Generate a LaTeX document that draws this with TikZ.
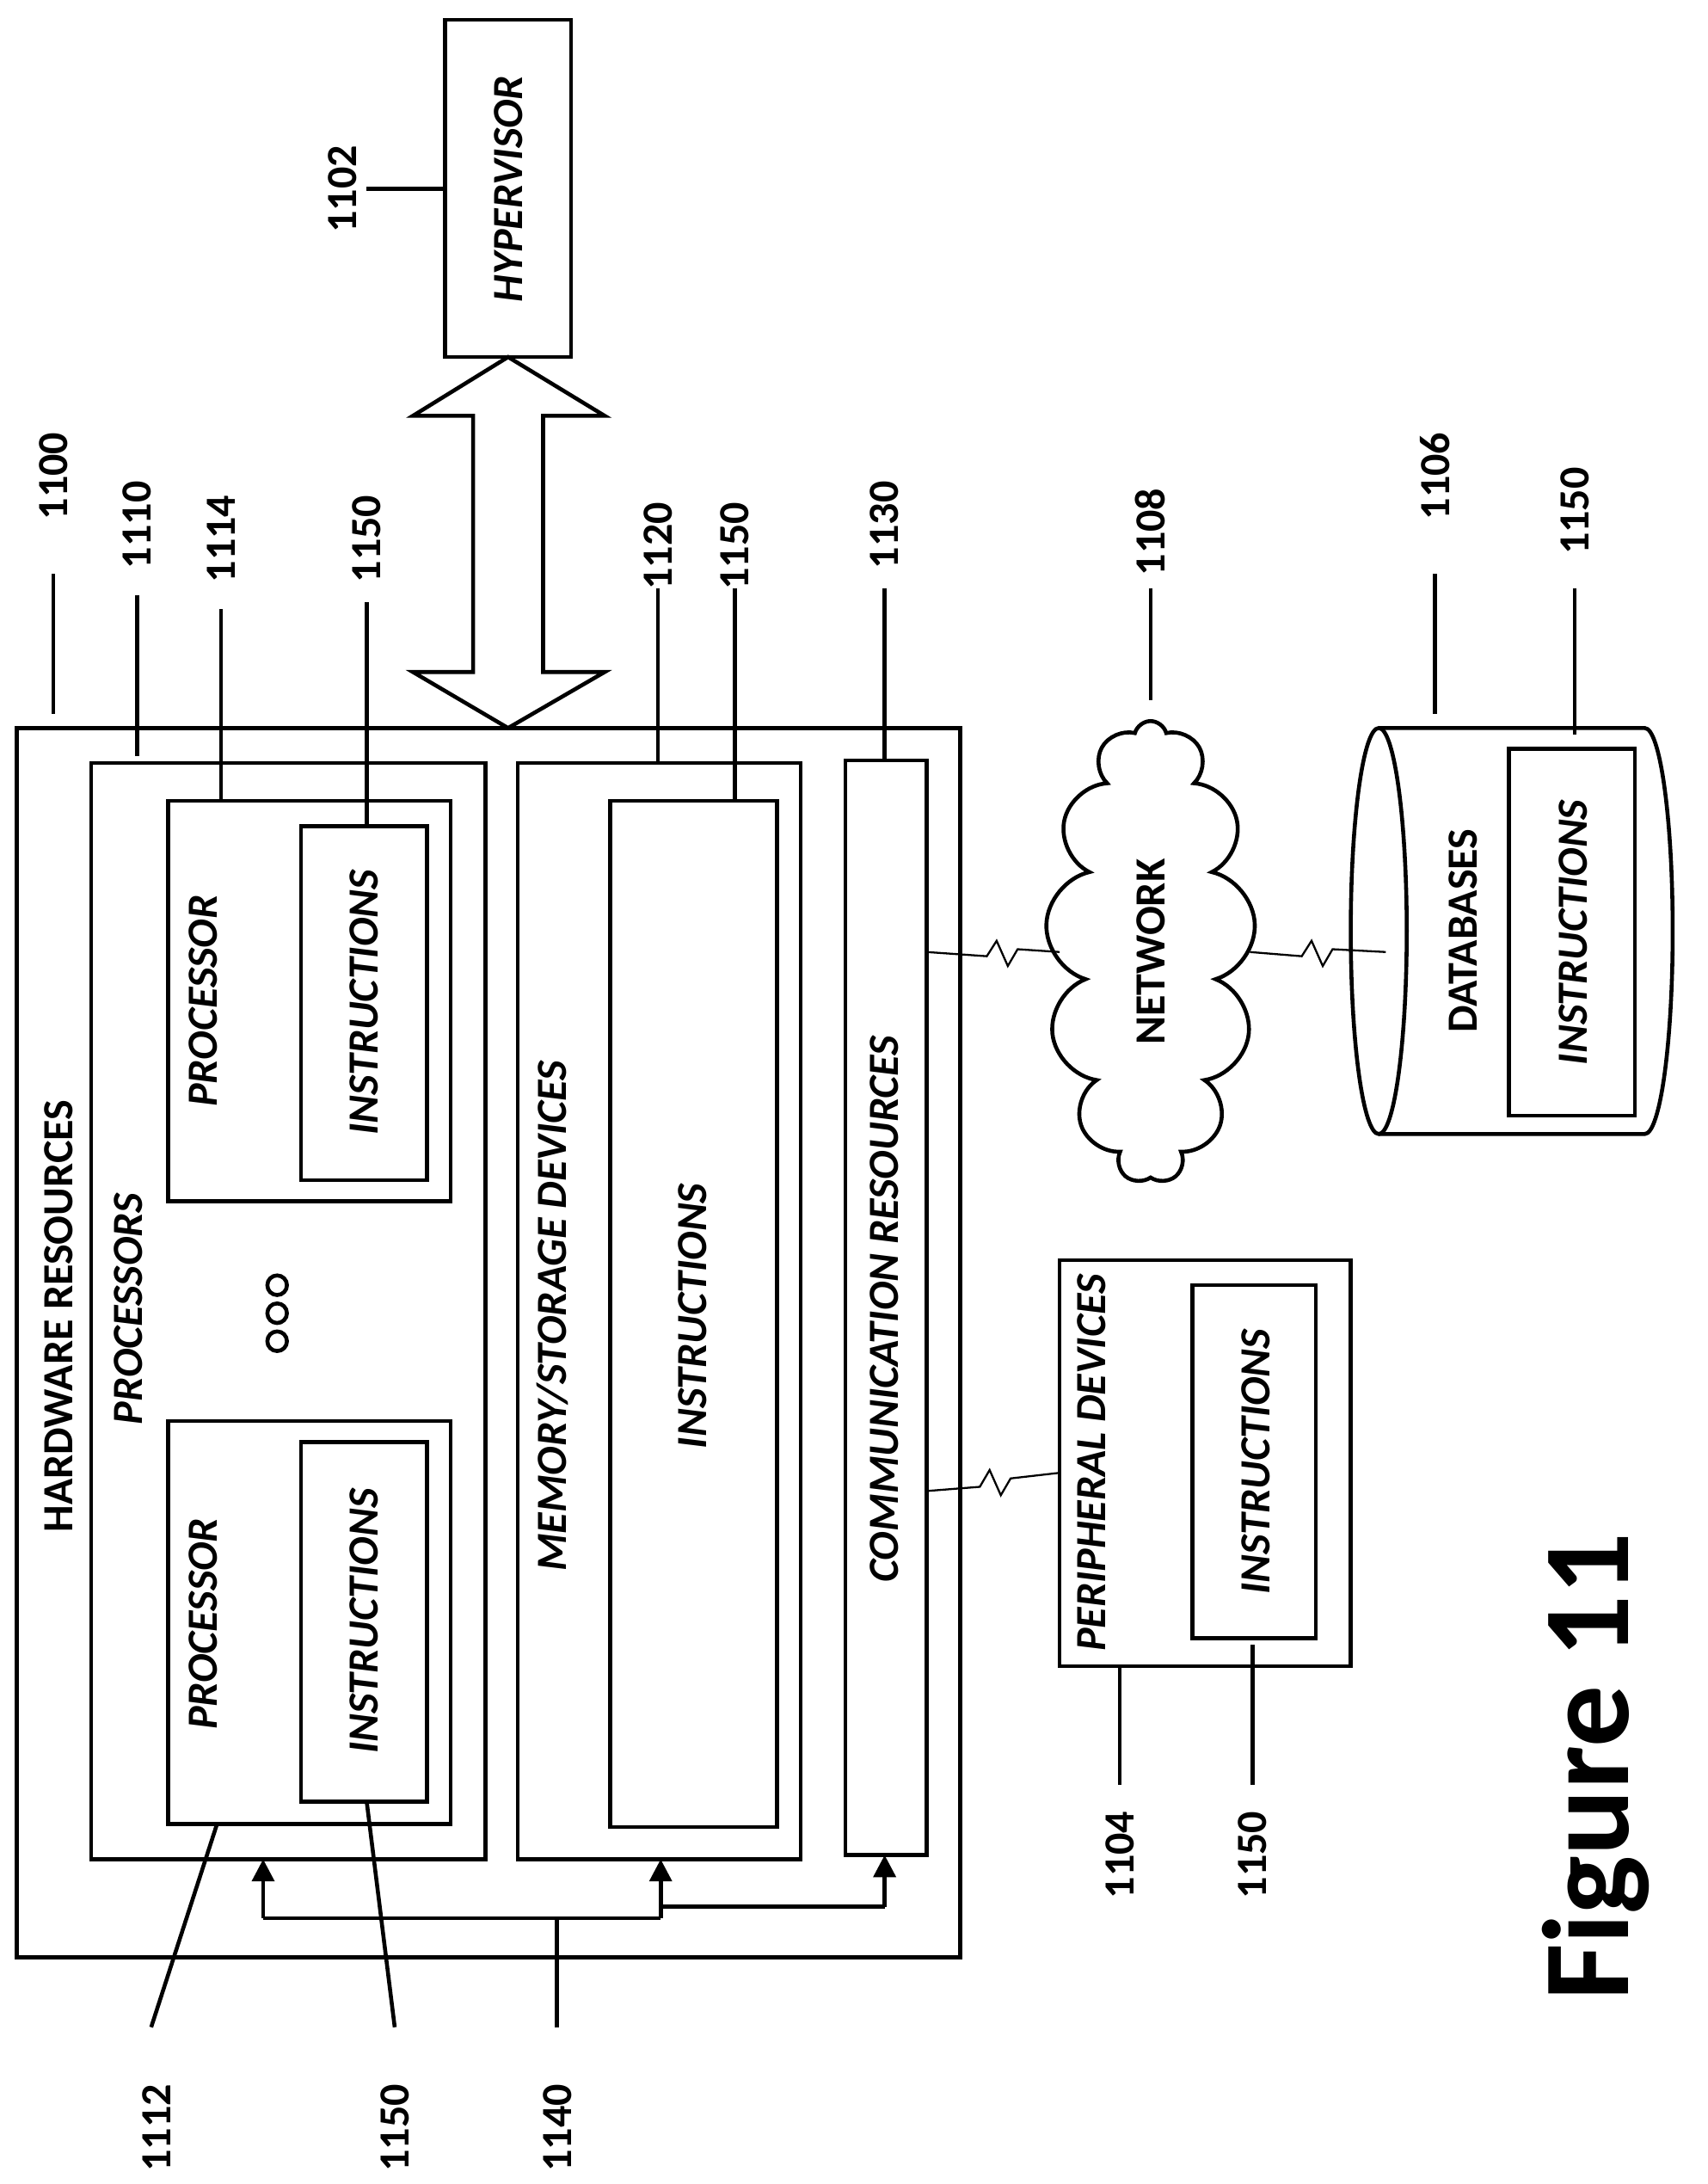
\documentclass[tikz,border=0pt]{standalone}
\usepackage{fontspec}
\setmainfont{Carlito}
\usetikzlibrary{shapes.symbols,arrows.meta}
\tikzset{box/.style={draw, line width=1.6pt},
  lbl/.style={rotate=90, font=\fontsize{17.5}{20}\selectfont\bfseries},
  txt/.style={rotate=90, font=\fontsize{17.5}{20}\selectfont\bfseries\itshape},
  lead/.style={line width=1.6pt},
  bus/.style={line width=1.6pt, -{Triangle[length=9pt,width=9pt]}}}
\begin{document}
\begin{tikzpicture}[x=0.02cm, y=-0.02cm]
\useasboundingbox (0,0) rectangle (1220,1560);
% hardware resources
\draw[box] (12,520) rectangle (686,1398);
\node[lbl] at (42,940) {HARDWARE RESOURCES};
\draw[box] (65,545) rectangle (347,1328);
\node[txt] at (92,935) {PROCESSORS};
% processors
\draw[box] (120,572) rectangle (322,858);
\draw[box] (120,1015) rectangle (322,1303);
\draw[box] (215,590) rectangle (305,843);
\draw[box] (215,1030) rectangle (305,1287);
\node[txt] at (145,715) {PROCESSOR};
\node[txt] at (145,1160) {PROCESSOR};
\node[txt] at (260,716) {INSTRUCTIONS};
\node[txt] at (260,1158) {INSTRUCTIONS};
\foreach \y in {918,938,958} \draw[lead] (198,\y) circle (7);
% memory
\draw[box] (370,545) rectangle (572,1328);
\draw[box] (436,572) rectangle (555,1305);
\node[txt] at (395,940) {MEMORY/STORAGE DEVICES};
\node[txt] at (495,940) {INSTRUCTIONS};
% communication
\draw[box] (604,543) rectangle (662,1325);
\node[txt] at (632,935) {COMMUNICATION RESOURCES};
% bus
\coordinate (b1) at (188,1370);
\coordinate (b2) at (472,1370);
\coordinate (b3) at (632,1362);
\draw[lead] (b1) -- (b2);
\draw[bus] (b1) -- (188,1328);
\draw[bus] (b2) -- (472,1328);
\draw[lead] (472,1362) -- (b3);
\draw[bus] (b3) -- (632,1325);
% hypervisor
\draw[box] (318,14) rectangle (408,255);
\node[txt] at (363,135) {HYPERVISOR};
\draw[lead] (363,255) -- (432,297) -- (388,297) -- (388,480) -- (432,480) -- (363,520)
  -- (295,480) -- (338,480) -- (338,297) -- (295,297) -- cycle;
% network
\node[cloud, draw, line width=1.6pt, cloud puffs=13, aspect=0.4,
  minimum width=3cm, minimum height=6.6cm] (net) at (822,680) {};
\node[lbl] at (822,680) {NETWORK};
\draw[line width=0.8pt] (662,680) -- (705,683) -- (712,672) -- (720,690) -- (727,678) -- (757,680);
\draw[line width=0.8pt] (893,680) -- (930,683) -- (937,672) -- (945,690) -- (952,678) -- (990,680);
\draw[line width=0.8pt] (662,1065) -- (700,1062) -- (707,1050) -- (715,1068) -- (722,1056) -- (757,1052);
% peripheral
\draw[box] (757,900) rectangle (965,1190);
\draw[box] (852,918) rectangle (940,1170);
\node[txt] at (780,1045) {PERIPHERAL DEVICES};
\node[txt] at (897,1044) {INSTRUCTIONS};
% databases
\draw[box] (985,520) -- (1175,520) arc (-90:90:20 and 145) -- (985,810);
\draw[box] (985,665) ellipse (20 and 145);
\draw[box] (1078,535) rectangle (1168,797);
\node[lbl] at (1045,665) {DATABASES};
\node[txt] at (1124,666) {INSTRUCTIONS};
% labels
\foreach \x/\a/\b/\ly/\t in {38/410/510/340/1100, 98/425/540/375/1110, 158/435/572/385/1114,
  262/430/590/385/1150, 470/420/545/390/1120, 525/420/572/390/1150, 632/420/543/375/1130,
  822/420/500/380/1108, 1025/410/510/340/1106, 1125/420/525/365/1150}{
  \draw[lead] (\x,\a) -- (\x,\b);
  \node[lbl] at (\x,\ly) {\t};
}
\draw[lead] (262,135) -- (318,135);
\node[lbl] at (245,135) {1102};
\draw[lead] (800,1190) -- (800,1275);
\node[lbl] at (800,1325) {1104};
\draw[lead] (895,1175) -- (895,1275);
\node[lbl] at (895,1325) {1150};
\draw[lead] (155,1303) -- (108,1448);
\node[lbl] at (112,1520) {1112};
\draw[lead] (262,1287) -- (282,1448);
\node[lbl] at (282,1520) {1150};
\draw[lead] (398,1370) -- (398,1448);
\node[lbl] at (398,1520) {1140};
\node[rotate=90, font=\fontsize{50}{56}\selectfont\bfseries] at (1140,1262) {Figure 11};
\end{tikzpicture}
\end{document}
